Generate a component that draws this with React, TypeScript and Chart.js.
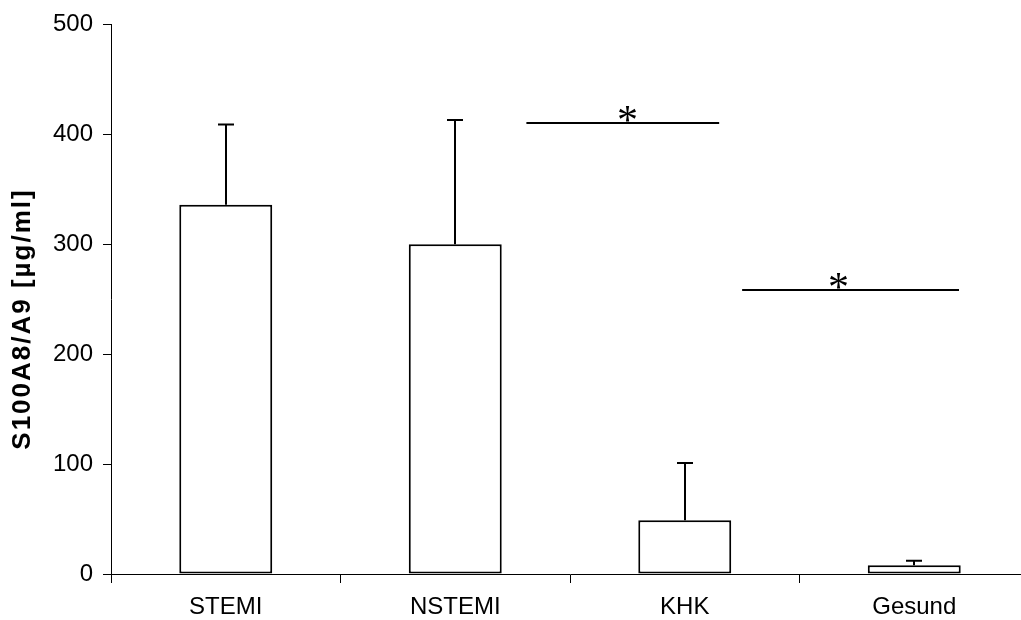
import React, { useEffect, useRef } from 'react';
import { Chart, registerables } from 'chart.js';

Chart.register(...registerables);

const categories = ['STEMI', 'NSTEMI', 'KHK', 'Gesund'];
const means = [336, 300, 49, 8];
const errorUpper = [409, 413, 101, 12];
const yTicks = [0, 100, 200, 300, 400, 500];
const yTitle = 'S100A8/A9 [µg/ml]';

// significance brackets (category-index units) and their level
const sigFrom = [1.31, 2.25];
const sigTo = [2.15, 3.195];
const sigLevel = [410, 258];
const sigMarkPos = [1.75, 2.67];
const sigMarks = ['*', '*'];

export default function App() {
  const ref = useRef<HTMLCanvasElement>(null);

  useEffect(() => {
    document.body.style.margin = '0';
    const canvas = ref.current!;
    const extras = {
      id: 'extras',
      afterDatasetsDraw(chart: any) {
        const ctx = chart.ctx;
        const x = chart.scales.x;
        const y = chart.scales.y;
        ctx.save();
        ctx.strokeStyle = '#000';
        ctx.fillStyle = '#000';
        ctx.lineWidth = 2;
        errorUpper.forEach((v, i) => {
          const px = Math.round(x.getPixelForValue(i));
          const top = y.getPixelForValue(means[i]);
          const e = y.getPixelForValue(v);
          ctx.beginPath();
          ctx.moveTo(px, top);
          ctx.lineTo(px, e);
          ctx.moveTo(px - 8, e);
          ctx.lineTo(px + 8, e);
          ctx.stroke();
        });
        sigFrom.forEach((f, k) => {
          const yy = Math.round(y.getPixelForValue(sigLevel[k]));
          ctx.beginPath();
          ctx.moveTo(x.getPixelForValue(f), yy);
          ctx.lineTo(x.getPixelForValue(sigTo[k]), yy);
          ctx.stroke();
          ctx.font = '42px "Liberation Serif"';
          ctx.textAlign = 'center';
          ctx.textBaseline = 'alphabetic';
          ctx.fillText(sigMarks[k], x.getPixelForValue(sigMarkPos[k]), yy + 11);
        });
        ctx.translate(23, 319);
        ctx.rotate(-Math.PI / 2);
        ctx.font = 'bold 26px "Liberation Sans"';
        try {
          (ctx as any).letterSpacing = '2px';
        } catch (e) {}
        ctx.textAlign = 'center';
        ctx.textBaseline = 'middle';
        ctx.fillText(yTitle, 0, 0);
        ctx.restore();
      },
    };

    const font = { family: '"Liberation Sans", Arial, sans-serif', size: 24 };
    const chart = new Chart(canvas, {
      type: 'bar',
      data: {
        labels: categories,
        datasets: [
          {
            data: means,
            backgroundColor: '#ffffff',
            borderColor: '#000000',
            borderWidth: 2,
            borderSkipped: false,
            barPercentage: 0.405,
            categoryPercentage: 1,
          },
        ],
      },
      options: {
        responsive: false,
        animation: false,
        devicePixelRatio: 1,
        layout: { padding: { top: 23, left: 0, right: 0, bottom: 0 } },
        plugins: { legend: { display: false }, tooltip: { enabled: false } },
        scales: {
          x: {
            offset: true,
            grid: {
              offset: true,
              drawOnChartArea: false,
              drawTicks: true,
              tickLength: 9,
              color: '#000',
              lineWidth: 1,
            },
            border: { display: true, color: '#000', width: 1 },
            ticks: { color: '#000', font, padding: 10, maxRotation: 0, autoSkip: false },
            afterFit: (s: any) => {
              s.height = 46;
            },
          },
          y: {
            min: 0,
            max: 500,
            afterBuildTicks: (s: any) => {
              s.ticks = yTicks.map((v) => ({ value: v }));
            },
            grid: { drawOnChartArea: false, drawTicks: true, tickLength: 8, color: '#000', lineWidth: 1 },
            border: { display: true, color: '#000', width: 1 },
            ticks: { color: '#000', font, padding: 10 },
            afterFit: (s: any) => {
              s.width = 111;
            },
          },
        },
      },
      plugins: [extras],
    });
    return () => chart.destroy();
  }, []);

  return (
    <div style={{ width: 1021, height: 620, overflow: 'hidden' }}>
      <canvas ref={ref} width={1029} height={620} style={{ display: 'block' }} />
    </div>
  );
}
